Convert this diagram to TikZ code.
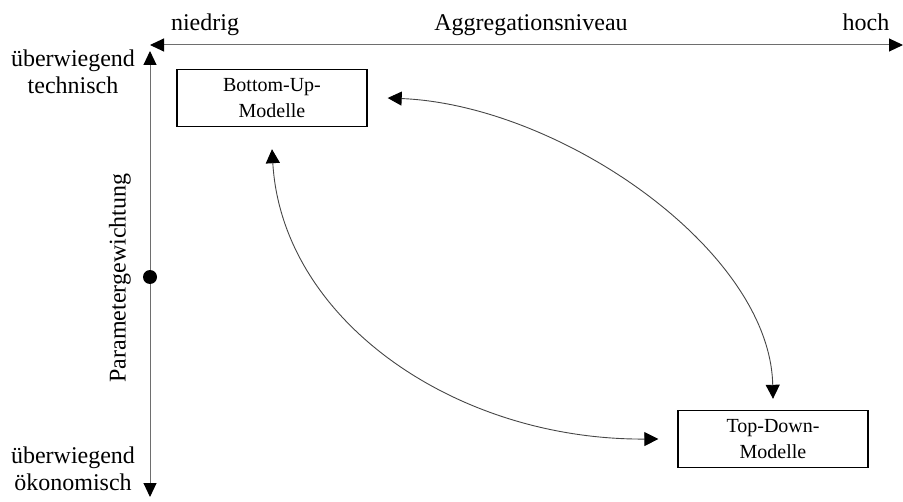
\documentclass[tikz,border=0pt]{standalone}
\usepackage{fontspec}
\setmainfont{Liberation Serif}
\usepackage{tikz}
\usepackage{xcolor}
\definecolor{axisgray}{RGB}{110,110,110}
\definecolor{curvegray}{RGB}{70,70,70}
\usetikzlibrary{positioning,arrows.meta}

\begin{document}
\begin{tikzpicture}[x=0.5pt,y=-0.5pt,
	axis/.style={draw=axisgray, line width=0.5pt, {Triangle[length=7pt,width=6.5pt,color=black]}-{Triangle[length=7pt,width=6.5pt,color=black]}},
	link/.style={draw=curvegray, line width=0.45pt, {Triangle[length=7pt,width=7pt,color=black]}-{Triangle[length=7pt,width=7pt,color=black]}},
	modelbox/.style={
	draw=black,           % black border
	line width=0.7pt,     % border thickness
	rectangle,            % shape
	align=center,         % two lines
	minimum width=95pt,   % box width
	minimum height=28.5pt,% box height
	inner sep=2pt,        % padding
	font=\fontsize{10}{13}\selectfont
	},
	label/.style={font=\fontsize{12}{13.5}\selectfont, align=center, inner sep=0pt}
	]
	\useasboundingbox (0,0) rectangle (903,502);
	% axes
	\coordinate (xleft) at (150,45);
	\coordinate (xright) at (903,45);
	\coordinate (ytop) at (150,51);
	\coordinate (ybottom) at (150,497);
	\draw[axis] (xleft) -- (xright);
	\draw[axis] (ytop) -- (ybottom);
	\fill (150,277) circle (3.5pt);
	% axis texts
	\node[label, anchor=base] (niedrig) at (205,31) {niedrig};
	\node[label, anchor=base] (aggr) at (531,31) {Aggregationsniveau};
	\node[label, anchor=base] (hoch) at (866,31) {hoch};
	\node[label] (tech) at (73,72) {überwiegend\\technisch};
	\node[label] (oeko) at (73,469) {überwiegend\\ökonomisch};
	\node[label, rotate=90] (param) at (120,278) {Parametergewichtung};
	% model boxes
	\node[modelbox] (bubox) at (272,98) {Bottom-Up-\\Modelle};
	\node[modelbox] (tdbox) at (773,439) {Top-Down-\\Modelle};
	% connectors
	\draw[link] ([yshift=-11pt]bubox.south) .. controls (282,320) and (455,440) .. ([xshift=-9.5pt]tdbox.west);
	\draw[link] ([xshift=10pt]bubox.east) .. controls (560,105) and (770,250) .. ([yshift=5.5pt]tdbox.north);
\end{tikzpicture}
\end{document}
